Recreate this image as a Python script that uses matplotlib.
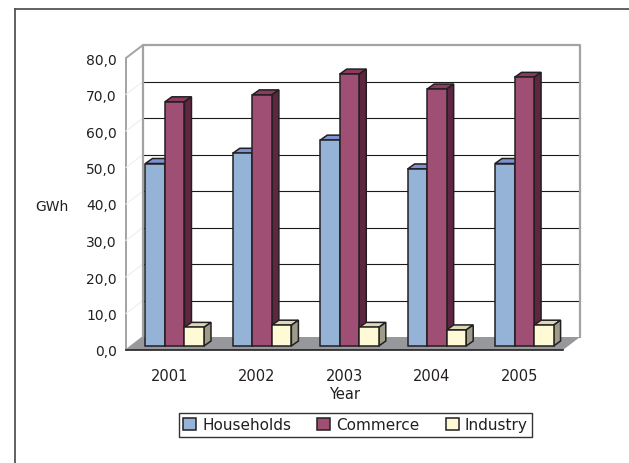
import numpy as np
import matplotlib
matplotlib.use("Agg")
import matplotlib.pyplot as plt
from matplotlib.patches import Polygon
from matplotlib.lines import Line2D
from matplotlib.transforms import ScaledTranslation

# data
years = ['2001', '2002', '2003', '2004', '2005']
households = [50.0, 52.8, 56.4, 48.5, 50.0]
commerce = [66.9, 68.8, 74.5, 70.4, 73.6]
industry = [5.1, 5.7, 5.1, 4.4, 5.7]
y_ticks = [0, 10, 20, 30, 40, 50, 60, 70, 80]
series_names = ['Households', 'Commerce', 'Industry']

# front / top / side colours for the fake 3d look
colors = {
    'Households': ('#95b3d7', '#7d92d2', '#5f6fa8'),
    'Commerce': ('#9f4f73', '#8a3b60', '#5e2641'),
    'Industry': ('#fffad6', '#dcd9b8', '#9c9c88'),
}
EDGE = '#231f20'
WALL = '#a3a3a3'

plt.rcParams['font.family'] = 'DejaVu Sans'
plt.rcParams['font.size'] = 10

fig = plt.figure(figsize=(6.29, 4.64), dpi=100)
fig.patch.set_facecolor('white')

# axes = plane of the bar front faces
ax = fig.add_axes([131 / 629, (464 - 347) / 464, 437 / 629, 292 / 464])
ax.set_xlim(-0.5, 4.5)
ax.set_ylim(0, 80)
ax.patch.set_visible(False)
for s in ax.spines.values():
    s.set_visible(False)

# pixel -> data unit factors
sx = ax.bbox.width / 5.0
sy = ax.bbox.height / 80.0

def shift(x, y, dx, dy):
    return (x + dx / sx, y + dy / sy)

# depth offsets in pixels (relative to the bar plane)
FRONT = (-5, -4)
BACK = (12, 9)
BAR_D = (7, 5)

x0, x1 = -0.5, 4.5

# back wall
back = [shift(x0, 0, *BACK), shift(x1, 0, *BACK), shift(x1, 80, *BACK), shift(x0, 80, *BACK)]
ax.add_patch(Polygon(back, closed=True, facecolor='white', edgecolor='none', zorder=0.5, clip_on=False))
ax.add_line(Line2D([p[0] for p in back[1:]] + [back[0][0]], [p[1] for p in back[1:]] + [back[0][1]],
                   color=WALL, lw=1.6, zorder=0.9, clip_on=False))

# left wall
left = [shift(x0, 0, *FRONT), shift(x0, 80, *FRONT), shift(x0, 80, *BACK), shift(x0, 0, *BACK)]
ax.add_patch(Polygon(left, closed=True, facecolor='white', edgecolor=WALL, lw=1.4, zorder=0.6, clip_on=False))

# grid lines on the back wall (and faint on the left wall)
for v in y_ticks[1:-1]:
    a = shift(x0, v, *BACK)
    b = shift(x1, v, *BACK)
    ax.add_line(Line2D([a[0], b[0]], [a[1], b[1]], color='#1a1a1a', lw=0.8, zorder=0.8, clip_on=False))
    c = shift(x0, v, *FRONT)
    ax.add_line(Line2D([c[0], a[0]], [c[1], a[1]], color='#eeeeee', lw=0.8, zorder=0.7, clip_on=False))

# floor
floor = [shift(x0, 0, *FRONT), shift(x1, 0, *FRONT), shift(x1, 0, *BACK), shift(x0, 0, *BACK)]
ax.add_patch(Polygon(floor, closed=True, facecolor='#97989b', edgecolor='none', zorder=1, clip_on=False))
fa, fb = floor[0], floor[1]
ax.add_line(Line2D([fa[0], fb[0]], [fa[1], fb[1]], color=EDGE, lw=1.2, zorder=1.1, clip_on=False))

# bars
w = 0.2234
x = np.arange(len(years))
handles = []
for k, (name, vals) in enumerate(zip(series_names, [households, commerce, industry])):
    front, top, side = colors[name]
    xs = x + (k - 1) * w
    z = 3 + k
    bars = ax.bar(xs, vals, width=w, color=front, edgecolor=EDGE, linewidth=1.1,
                  zorder=z, label=name, clip_on=False)
    handles.append(bars)
    for xc, v in zip(xs, vals):
        l, r = xc - w / 2, xc + w / 2
        tp = [(l, v), (r, v), shift(r, v, *BAR_D), shift(l, v, *BAR_D)]
        sd = [(r, 0), shift(r, 0, *BAR_D), shift(r, v, *BAR_D), (r, v)]
        ax.add_patch(Polygon(tp, closed=True, facecolor=top, edgecolor=EDGE, lw=1.1,
                             zorder=z - 0.1, clip_on=False, joinstyle='miter'))
        ax.add_patch(Polygon(sd, closed=True, facecolor=side, edgecolor=EDGE, lw=1.1,
                             zorder=z - 0.1, clip_on=False, joinstyle='miter'))

# ticks, labels sit on the front plane
front_off = ScaledTranslation(FRONT[0] / 100, FRONT[1] / 100, fig.dpi_scale_trans)
ax.set_yticks(y_ticks)
ax.set_yticklabels([f'{v:.1f}'.replace('.', ',') for v in y_ticks])
ax.set_xticks(x)
ax.set_xticklabels(years)
ax.tick_params(axis='y', length=0, pad=6.5, labelcolor='#231f20')
ax.tick_params(axis='x', length=0, pad=13, labelcolor='#231f20', labelsize=10.5)
for lbl in ax.get_yticklabels() + ax.get_xticklabels():
    lbl.set_transform(lbl.get_transform() + front_off)

ax.set_ylabel('GWh', rotation=0, ha='center', va='center', color='#231f20')
ax.yaxis.set_label_coords((52 - 131) / 437, (347 - 207) / 292)
ax.set_xlabel('Year', color='#231f20', fontsize=10.5)
ax.xaxis.set_label_coords((345 - 131) / 437, -(395 - 347) / 292)
ax.xaxis.label.set_va('center')

leg = ax.legend(handles=handles, loc='center', bbox_to_anchor=(355.5 / 629, 1 - 426 / 464),
                bbox_transform=fig.transFigure, ncol=3, fancybox=False, framealpha=1,
                edgecolor='#333333', handlelength=0.85, handleheight=0.85, handletextpad=0.4,
                columnspacing=1.7, borderpad=0.3, fontsize=11)
leg.get_frame().set_linewidth(1.0)
for t in leg.get_texts():
    t.set_color('#231f20')

# outer frame, only top and left visible
fig.add_artist(Line2D([15 / 629, 1], [1 - 10 / 464, 1 - 10 / 464], transform=fig.transFigure,
                      color='#555555', lw=1.3))
fig.add_artist(Line2D([15 / 629, 15 / 629], [0, 1 - 10 / 464], transform=fig.transFigure,
                      color='#555555', lw=1.3))

fig.savefig('out.png', dpi=100)
